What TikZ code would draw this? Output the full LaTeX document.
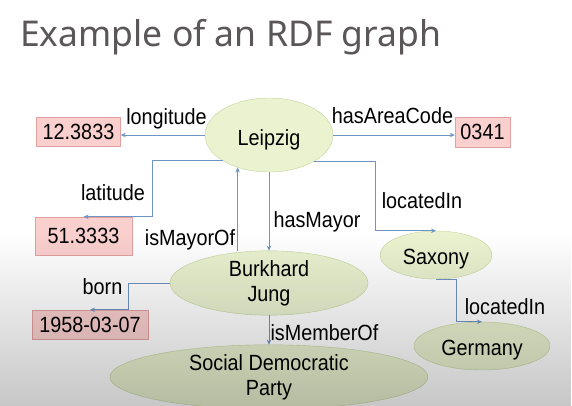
\documentclass[tikz,border=0pt]{standalone}
\usepackage{fontspec}
\setmainfont{Liberation Sans}[FakeStretch=0.9]
\newfontfamily\titlefont{Noto Sans}
\usepackage[HTML]{xcolor}
\usetikzlibrary{positioning, arrows.meta, shapes.geometric, fadings}
\definecolor{resfill}{HTML}{EAF2D0}
\definecolor{resline}{HTML}{C4D59C}
\definecolor{litfill}{HTML}{FAD0CF}
\definecolor{litline}{HTML}{E2A0A0}
\definecolor{linkblue}{HTML}{6F94C3}
\definecolor{titlegray}{HTML}{5B5759}
\tikzfading[name=fadedown, top color=transparent!100, bottom color=transparent!0]

\begin{document}
\begin{tikzpicture}[x=1pt, y=-1pt,
  res/.style={ellipse, draw=resline, fill=resfill, inner sep=0pt, align=center, font=\fontsize{22}{25}\selectfont},
  oneline/.style={text height=#1, text depth=0pt},
  lit/.style={rectangle, draw=litline, fill=litfill, inner sep=0pt, font=\fontsize{22}{25}\selectfont},
  lbl/.style={anchor=base, inner sep=0pt, font=\fontsize{22}{25}\selectfont},
  link/.style={draw=linkblue, line width=0.9pt, -{Stealth[length=5pt,width=4.5pt]}}]
\useasboundingbox (0,0) rectangle (572,406);
\fill[white] (0,0) rectangle (572,406);
% title
\node[anchor=base west, inner sep=0pt, text=titlegray, font=\titlefont\fontsize{35.5}{40}\selectfont] (title) at (20,47) {Example of an RDF graph};
% resources
\node[res, oneline=22pt, minimum width=128pt, minimum height=74pt] (leipzig) at (269,135) {Leipzig};
\node[res, oneline=18.5pt, minimum width=112pt, minimum height=48pt] (saxony) at (436,255) {Saxony};
\node[res, minimum width=198pt, minimum height=58pt] (jung) at (269,283) {Burkhard\\Jung};
\node[res, minimum width=318pt, minimum height=50pt] (spd) at (269,377) {Social Democratic\\Party};
\node[res, oneline=18pt, minimum width=136pt, minimum height=48pt] (germany) at (482,346) {Germany};
% literals
\node[lit, minimum width=84pt, minimum height=29pt] (lon) at (78.5,131.5) {12.3833};
\node[lit, minimum width=55pt, minimum height=30pt] (area) at (482.5,132) {0341};
\node[lit, minimum width=97pt, minimum height=38pt] (lat) at (83.5,236) {51.3333};
\node[lit, minimum width=116pt, minimum height=29pt] (born) at (90,324.5) {1958-03-07};
% properties
\draw[link] (leipzig.west) -- (leipzig.west -| lon.east);
\draw[link] (leipzig.east) -- (leipzig.east -| area.west);
\draw[link] (leipzig.209) -- ++(-70,0) |- (lat.north);
\draw[link] (leipzig.-31) -- ++(62,0) |- (saxony.north);
\draw[link] (leipzig.226 |- jung.north) -- (leipzig.226);
\draw[link] (leipzig.south) -- (jung.north);
\draw[link] (jung.west) -- ++(-41,0) |- (born.north);
\draw[link] (jung.south) -- (spd.north);
\draw[link] (saxony.south) -- ++(20,0) |- (germany.north);
% labels
\node[lbl] (lonlbl) at (166.5,124.5) {longitude};
\node[lbl] (arealbl) at (392.5,123.5) {hasAreaCode};
\node[lbl] (latlbl) at (113,200.5) {latitude};
\node[lbl] (mayoflbl) at (190,245.5) {isMayorOf};
\node[lbl] (maylbl) at (317,227) {hasMayor};
\node[lbl] (loclbl) at (422,208.5) {locatedIn};
\node[lbl] (bornlbl) at (102.5,294) {born};
\node[lbl] (memlbl) at (324.5,340) {isMemberOf};
\node[lbl] (loc2lbl) at (505,314.5) {locatedIn};
% shade at the bottom
\fill[black, fill opacity=0.22, path fading=fadedown] (0,232) rectangle (572,406);
\end{tikzpicture}
\end{document}
